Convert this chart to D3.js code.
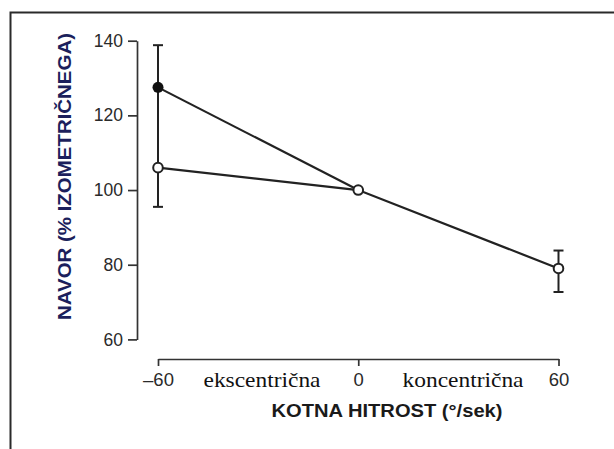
<!DOCTYPE html>
<html>
<head>
<meta charset="utf-8">
<script src="https://cdn.jsdelivr.net/npm/d3@7"></script>
<style>
  html, body { margin: 0; padding: 0; background: #fff; }
  svg { display: block; }
</style>
</head>
<body>
<div id="chart"></div>
<script>
// Torque vs angular velocity, eccentric / concentric (two series + error bars)
const speeds = [-60, 0, 60];
const openVals = [106, 100, 79];
const filledSpeeds = [-60, 0];
const filledVals = [127.5, 100];
const errX = [-60, 60];
const errLo = [95.5, 72.7];
const errHi = [138.8, 83.8];
const yTicks = [60, 80, 100, 120, 140];
const xTickLabels = ['–60', '0', '60'];

const W = 614, H = 449;
const svg = d3.select('#chart').append('svg').attr('width', W).attr('height', H);

// picture frame (top + left edges only)
svg.append('path')
  .attr('d', 'M10.5,449 L10.5,12.5 L614,12.5')
  .attr('fill', 'none').attr('stroke', '#2a2a2a').attr('stroke-width', 2);

const x = d3.scaleLinear().domain([-60, 60]).range([158, 558.5]);
const y = d3.scaleLinear().domain([60, 140]).range([339.4, 40.7]);
const ink = '#222';

const yAxisG = svg.append('g').attr('transform', 'translate(137,0)')
  .call(d3.axisLeft(y).tickValues(yTicks).tickSize(9).tickSizeOuter(0).tickPadding(5));
yAxisG.selectAll('text').attr('font-size', 17.5).attr('fill', '#2a2a2a')
  .attr('font-family', '"Liberation Sans", Arial, sans-serif');

const xAxisG = svg.append('g').attr('transform', 'translate(0,359)')
  .call(d3.axisBottom(x).tickValues(speeds).tickFormat((d, i) => xTickLabels[i])
    .tickSize(7).tickSizeOuter(0).tickPadding(7));
xAxisG.selectAll('text').attr('font-size', 18.5).attr('fill', '#2a2a2a')
  .attr('font-family', '"Liberation Sans", Arial, sans-serif');

svg.selectAll('.domain, .tick line').attr('stroke', '#333').attr('stroke-width', 1.7);

// error bars
const eb = svg.append('g').attr('stroke', ink).attr('stroke-width', 2);
errX.forEach((v, i) => {
  eb.append('line').attr('x1', x(v)).attr('x2', x(v)).attr('y1', y(errLo[i])).attr('y2', y(errHi[i]));
  [errLo[i], errHi[i]].forEach(e => {
    eb.append('line').attr('x1', x(v) - 5).attr('x2', x(v) + 5).attr('y1', y(e)).attr('y2', y(e));
  });
});

// lines
const line = d3.line().x(d => x(d[0])).y(d => y(d[1]));
svg.append('path').attr('d', line(filledSpeeds.map((s, i) => [s, filledVals[i]])))
  .attr('fill', 'none').attr('stroke', ink).attr('stroke-width', 2.2);
svg.append('path').attr('d', line(speeds.map((s, i) => [s, openVals[i]])))
  .attr('fill', 'none').attr('stroke', ink).attr('stroke-width', 2.2);

// markers
svg.append('circle').attr('cx', x(filledSpeeds[0])).attr('cy', y(filledVals[0]))
  .attr('r', 5.5).attr('fill', '#111');
svg.selectAll('circle.open').data(speeds).join('circle').attr('class', 'open')
  .attr('cx', d => x(d)).attr('cy', (d, i) => y(openVals[i]))
  .attr('r', 4.8).attr('fill', '#fff').attr('stroke', ink).attr('stroke-width', 2);

// region labels
svg.append('text').attr('x', 262).attr('y', 386.5).attr('text-anchor', 'middle')
  .attr('font-family', '"Liberation Serif", "Times New Roman", serif').attr('font-size', 22)
  .attr('textLength', 117).attr('lengthAdjust', 'spacingAndGlyphs').attr('fill', '#111')
  .text('ekscentrična');
svg.append('text').attr('x', 463).attr('y', 386.5).attr('text-anchor', 'middle')
  .attr('font-family', '"Liberation Serif", "Times New Roman", serif').attr('font-size', 22)
  .attr('textLength', 121).attr('lengthAdjust', 'spacingAndGlyphs').attr('fill', '#111')
  .text('koncentrična');

// axis titles
svg.append('text').attr('x', 387).attr('y', 417).attr('text-anchor', 'middle')
  .attr('font-family', '"Liberation Sans", Arial, sans-serif').attr('font-weight', 'bold')
  .attr('font-size', 19).attr('textLength', 231).attr('lengthAdjust', 'spacingAndGlyphs')
  .attr('fill', '#1a1a1a').text('KOTNA HITROST (°/sek)');
svg.append('text').attr('transform', 'translate(71,176.5) rotate(-90)').attr('text-anchor', 'middle')
  .attr('font-family', '"Liberation Sans", Arial, sans-serif').attr('font-weight', 'bold')
  .attr('font-size', 18.5).attr('textLength', 287).attr('lengthAdjust', 'spacingAndGlyphs')
  .attr('fill', '#1c1f5c').text('NAVOR (% IZOMETRIČNEGA)');
</script>
</body>
</html>
